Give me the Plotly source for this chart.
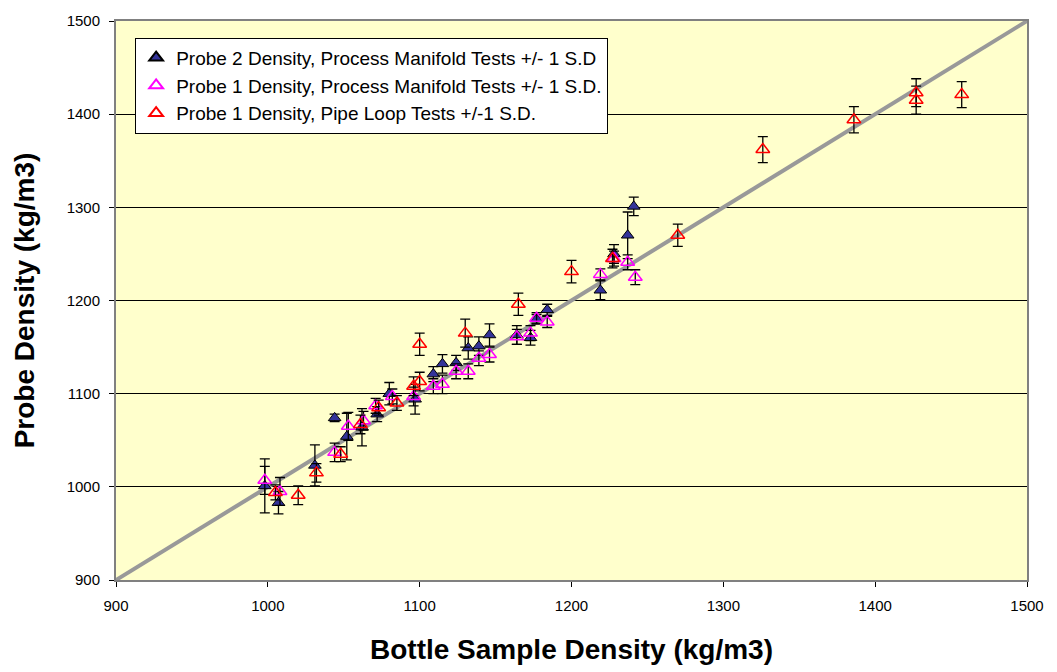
import plotly.graph_objects as go

# Probe 2 Density, Process Manifold Tests
p2_x = [998, 1007, 1031, 1044, 1052, 1062, 1072, 1080, 1097, 1109, 1115, 1124, 1132, 1139, 1146, 1164, 1173, 1177, 1184, 1219, 1228, 1237, 1241]
p2_y = [1001, 983, 1023, 1074, 1054, 1064, 1078, 1100, 1094, 1121, 1132, 1133, 1149, 1151, 1163, 1163, 1160, 1180, 1190, 1211, 1250, 1270, 1301]
p2_sd = [29, 12, 22, 4, 25, 20, 8, 12, 16, 8, 10, 8, 12, 10, 12, 10, 8, 5, 6, 10, 10, 25, 10]

# Probe 1 Density, Process Manifold Tests
p1m_x = [998, 1008, 1044, 1053, 1063, 1071, 1082, 1096, 1109, 1115, 1124, 1132, 1139, 1146, 1164, 1173, 1177, 1184, 1219, 1228, 1237, 1242]
p1m_y = [1007, 995, 1037, 1065, 1071, 1087, 1097, 1097, 1108, 1110, 1124, 1124, 1138, 1142, 1161, 1165, 1181, 1177, 1228, 1245, 1241, 1225]
p1m_sd = [15, 15, 10, 15, 10, 8, 8, 10, 8, 10, 8, 8, 8, 8, 8, 8, 6, 6, 6, 8, 8, 8]

# Probe 1 Density, Pipe Loop Tests
p1l_x = [1005, 1020, 1032, 1048, 1061, 1073, 1085, 1096, 1100, 1100, 1130, 1165, 1200, 1227, 1270, 1326, 1386, 1427, 1427, 1457]
p1l_y = [994, 991, 1015, 1035, 1067, 1085, 1090, 1108, 1113, 1153, 1165, 1196, 1231, 1245, 1270, 1362, 1394, 1423, 1415, 1421]
p1l_sd = [8, 10, 10, 8, 10, 8, 8, 10, 10, 12, 15, 12, 12, 10, 12, 14, 14, 15, 15, 14]

ref_line = [900, 1500]
ticks = [900, 1000, 1100, 1200, 1300, 1400, 1500]

fig = go.Figure()
fig.add_trace(go.Scatter(x=ref_line, y=ref_line, mode="lines",
                         line=dict(color="#999999", width=4), showlegend=False, hoverinfo="skip"))

def err(a):
    return dict(type="data", array=a, visible=True, color="black", thickness=1.3, width=5)

fig.add_trace(go.Scatter(x=p2_x, y=p2_y, mode="markers", error_y=err(p2_sd),
                         name="Probe 2 Density, Process Manifold Tests +/- 1 S.D",
                         marker=dict(symbol="triangle-up", size=11, color="#333399",
                                     line=dict(color="black", width=1))))
fig.add_trace(go.Scatter(x=p1m_x, y=p1m_y, mode="markers", error_y=err(p1m_sd),
                         name="Probe 1 Density, Process Manifold Tests +/- 1 S.D.",
                         marker=dict(symbol="triangle-up-open", size=12, color="#FF00FF",
                                     line=dict(color="#FF00FF", width=1.5))))
fig.add_trace(go.Scatter(x=p1l_x, y=p1l_y, mode="markers", error_y=err(p1l_sd),
                         name="Probe 1 Density, Pipe Loop Tests +/-1 S.D.",
                         marker=dict(symbol="triangle-up-open", size=12, color="#FF0000",
                                     line=dict(color="#FF0000", width=1.5))))

fig.update_layout(
    width=1057, height=672,
    margin=dict(l=116, r=30, t=18, b=92),
    paper_bgcolor="white", plot_bgcolor="#FFFFCC",
    font=dict(family="Arial, Liberation Sans", size=15, color="black"),
    legend=dict(x=0.021, y=0.97, xanchor="left", yanchor="top",
                bgcolor="white", bordercolor="black", borderwidth=1,
                font=dict(size=19), tracegroupgap=0, itemsizing="constant",
                entrywidth=570, entrywidthmode="pixels"),
    xaxis=dict(range=[900, 1500], tickvals=ticks, showgrid=False, zeroline=False,
               showline=True, mirror=True, linecolor="#808080", linewidth=2,
               ticks="outside", ticklen=5, tickcolor="black", ticklabelstandoff=6,
               title=dict(text="<b>Bottle Sample Density (kg/m3)</b>", font=dict(size=28), standoff=26)),
    yaxis=dict(range=[900, 1500], tickvals=ticks, showgrid=True, gridcolor="black", gridwidth=1,
               zeroline=False, showline=True, mirror=True, linecolor="#808080", linewidth=2,
               ticks="outside", ticklen=5, tickcolor="black", ticklabelstandoff=6,
               title=dict(text="<b>Probe Density (kg/m3)</b>", font=dict(size=28), standoff=24)),
)

fig.write_html("out.html")
